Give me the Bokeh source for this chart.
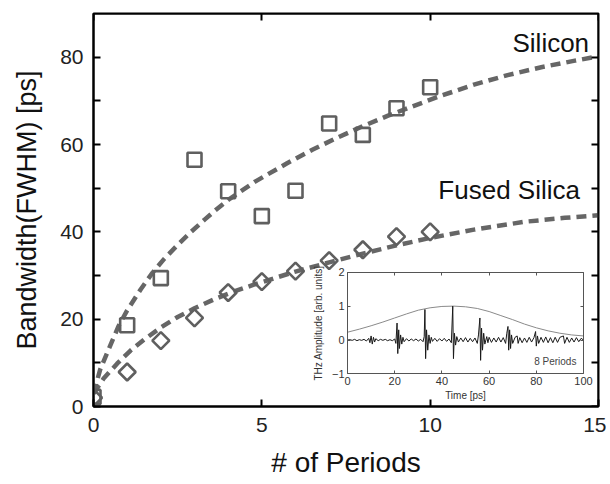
import numpy as np
from bokeh.plotting import figure
from bokeh.models import Range1d, LinearAxis, FixedTicker, Label
from bokeh.embed import file_html
from bokeh.resources import INLINE

# ---------------- data ----------------
periods = [0, 1, 2, 3, 4, 5, 6, 7, 8, 9, 10]
silicon_bw = [2.2, 18.6, 29.4, 56.5, 49.3, 43.6, 49.4, 64.8, 62.2, 68.3, 73.1]
fused_bw = [2.0, 7.9, 15.1, 20.3, 26.1, 28.6, 31.0, 33.4, 35.9, 38.9, 40.0]

silicon_fit_x = [0, 0.2, 0.5, 0.75, 1, 1.4, 1.75, 2.1, 2.5, 2.9, 3.3, 3.6, 4, 4.8, 5.75, 6.5,
                 7.25, 8, 8.75, 9.5, 10.3, 11.3, 12.3, 13.3, 14.3, 15]
silicon_fit_y = [3, 8.5, 14, 18.5, 22, 26.8, 30.6, 33.8, 37, 40, 42.8, 44.8, 47.3, 51.5, 55.7,
                 58.8, 61.6, 64.2, 66.6, 68.8, 71.1, 73.7, 75.9, 77.7, 79.2, 80.2]
fused_fit_x = [0, 0.3, 0.7, 1.1, 1.5, 2, 2.5, 3, 3.6, 4.2, 4.8, 6, 7, 8, 9, 10, 11.3, 12.8, 14, 15]
fused_fit_y = [3, 6.4, 9.8, 12.8, 15.3, 18.1, 20.5, 22.5, 24.6, 26.4, 28.0, 30.9, 33.0, 35.0,
               36.9, 38.6, 40.5, 42.3, 43.2, 43.8]

x_ticks = [0, 5, 10, 15]
y_ticks = [0, 20, 40, 60, 80]
y_minor = [10, 30, 50, 70]

# inset: THz waveform for 8 periods
inset_xlim = (0, 100)
inset_ylim = (-1, 2)
inset_x_ticks = [0, 20, 40, 60, 80, 100]
inset_y_ticks = [-1, 0, 1, 2]
env_t = [0, 5, 10, 15, 20, 25, 30, 35, 40, 45, 50, 55, 60, 65, 70, 75, 80, 85, 90, 95, 100]
env_v = [0.23, 0.32, 0.42, 0.53, 0.65, 0.77, 0.88, 0.95, 0.99, 1.0, 0.98, 0.93, 0.84,
         0.72, 0.6, 0.47, 0.36, 0.27, 0.2, 0.15, 0.12]
sig_t = [0, 1, 2, 3, 4, 5, 6, 7, 8, 9, 9.5, 10, 10.5, 11, 11.5, 12, 13, 14, 15, 16, 17, 18, 19,
         20, 20.5, 21, 21.3, 21.7, 22, 22.5, 23, 23.5, 24, 25, 26, 27, 28, 29, 30, 31, 32, 32.5,
         32.8, 33.1, 33.5, 34, 34.5, 35, 35.5, 36, 37, 38, 39, 40, 41, 42, 43, 44, 44.6, 44.9,
         45.3, 45.8, 46.3, 47, 48, 49, 50, 51, 52, 53, 54, 55, 55.5, 56.1, 56.4, 56.8, 57.2,
         57.7, 58.2, 59, 59.5, 60, 61, 62, 63, 64, 65, 66, 67, 67.5, 68, 68.3, 68.7, 69.1, 69.5,
         70, 71, 71.9, 72.3, 73, 74, 75, 76, 77, 78, 79, 79.7, 80, 80.5, 81, 82, 83, 84, 85, 86,
         87, 88, 89, 90, 91.5, 92, 93, 94, 95, 96, 97, 98, 99, 100]
sig_v = [0, 0.01, -0.01, 0.02, -0.02, 0.01, -0.01, 0.02, -0.03, 0.05, -0.08, 0.12, -0.12, 0.08,
         -0.06, 0.04, -0.02, 0.02, -0.01, 0.02, -0.02, 0.01, -0.02,
         0.03, -0.1, 0.5, -0.4, 0.3, -0.25, 0.15, -0.12, 0.08, -0.05, 0.04, -0.03, 0.03, -0.02,
         0.03, -0.03, 0.02, -0.05, 0.1,
         0.9, -0.55, 0.3, -0.3, 0.15, -0.1, 0.08, -0.04, 0.05, -0.04, 0.04, -0.03, 0.05, -0.04,
         0.03, -0.08, 1.0, -0.55,
         0.2, -0.15, 0.1, -0.06, 0.06, -0.05, 0.07, -0.06, 0.05, -0.05, 0.06, -0.1, 0.15, 0.65,
         -0.6, 0.35, -0.3,
         0.2, -0.12, 0.1, -0.08, 0.08, -0.07, 0.06, -0.06, 0.08, -0.06, 0.07, -0.1, 0.2, 0.4,
         -0.3, 0.3, -0.25, 0.15,
         -0.1, 0.08, 0.12, -0.1, 0.07, -0.08, 0.06, -0.07, 0.08, -0.06, 0.07, 0.25, -0.18, 0.12,
         -0.1, 0.08, -0.07, 0.09, -0.08, 0.07,
         -0.08, 0.08, -0.07, 0.08, 0.12, -0.1, 0.08, -0.07, 0.06, -0.06, 0.07, -0.05, 0.05, 0]

# ---------------- layout constants (pixels) ----------------
FONT = "Liberation Sans"
W, H = 606, 480
ML, MR, MT, MB = 93, 8, 13, 69
frame_w = W - ML - MR
frame_h = H - MT - MB
# inset frame placement inside the main frame (pixels from frame left/top)
in_left, in_right, in_top, in_bottom = 254, 490, 262, 365

p = figure(width=W, height=H, output_backend="svg", toolbar_location=None,
           x_range=Range1d(0, 15), y_range=Range1d(0, 90),
           min_border_left=ML, min_border_right=MR, min_border_top=MT, min_border_bottom=MB,
           background_fill_color="white", border_fill_color="white")
p.xgrid.visible = False
p.ygrid.visible = False
p.outline_line_color = "black"
p.outline_line_width = 2

# inset ranges mapped to a sub-rectangle of the frame
ixs = (inset_xlim[1] - inset_xlim[0]) / (in_right - in_left)
iys = (inset_ylim[1] - inset_ylim[0]) / (in_bottom - in_top)
p.extra_x_ranges = {"ix": Range1d(inset_xlim[0] - in_left * ixs,
                                  inset_xlim[1] + (frame_w - in_right) * ixs)}
p.extra_y_ranges = {"iy": Range1d(inset_ylim[0] - (frame_h - in_bottom) * iys,
                                  inset_ylim[1] + in_top * iys)}

# main axes
for ax in (p.xaxis[0], p.yaxis[0]):
    ax.axis_line_width = 2
    ax.axis_line_color = "black"
    ax.major_tick_in = 7
    ax.major_tick_out = 0
    ax.minor_tick_in = 7
    ax.minor_tick_out = 0
    ax.major_tick_line_width = 2
    ax.minor_tick_line_width = 2
    ax.major_label_text_font = FONT
    ax.major_label_text_font_size = "21px"
    ax.major_label_text_color = "#222"
    ax.axis_label_text_font = FONT
    ax.axis_label_text_font_size = "28px"
    ax.axis_label_text_font_style = "normal"
    ax.axis_label_text_color = "#111"

p.xaxis[0].ticker = FixedTicker(ticks=x_ticks)
p.yaxis[0].ticker = FixedTicker(ticks=y_ticks, minor_ticks=y_minor)
p.xaxis[0].axis_label = "# of Periods"
p.yaxis[0].axis_label = "Bandwidth(FWHM) [ps]"
p.xaxis[0].major_label_standoff = 11
p.xaxis[0].axis_label_standoff = 12
p.yaxis[0].major_label_standoff = 10
p.yaxis[0].axis_label_standoff = 15
p.yaxis[0].axis_label_text_font_size = "27px"

# top/right frame ticks (no labels)
top_ax = LinearAxis(fixed_location=90, ticker=FixedTicker(ticks=x_ticks),
                    major_label_text_color=None, major_tick_in=7, major_tick_out=0,
                    major_tick_line_width=2, axis_line_width=2)
right_ax = LinearAxis(fixed_location=15, ticker=FixedTicker(ticks=y_ticks, minor_ticks=y_minor),
                      major_label_text_color=None, major_tick_in=7, major_tick_out=0,
                      minor_tick_in=7, minor_tick_out=0, major_tick_line_width=2,
                      minor_tick_line_width=2, axis_line_width=2)
p.add_layout(top_ax, "above")
p.add_layout(right_ax, "right")

# main data
grey = "#5f5f5f"
p.line(silicon_fit_x, silicon_fit_y, line_color="#666666", line_width=4.5, line_dash="10 6")
p.line(fused_fit_x, fused_fit_y, line_color="#666666", line_width=4.5, line_dash="10 6")
p.scatter(periods, silicon_bw, marker="square", size=14, fill_color=None,
          line_color=grey, line_width=2.6)
p.scatter(periods, fused_bw, marker="square", size=12, angle=np.pi / 4, fill_color=None,
          line_color=grey, line_width=2.6)

p.add_layout(Label(x=14.72, y=83.3, text="Silicon", text_align="right", text_baseline="middle",
                   text_font=FONT, text_font_size="26px", text_color="#111"))
p.add_layout(Label(x=14.45, y=49.6, text="Fused Silica", text_align="right",
                   text_baseline="middle", text_font=FONT, text_font_size="26px",
                   text_color="#111"))

# inset
p.quad(left=[inset_xlim[0]], right=[inset_xlim[1]], bottom=[inset_ylim[0]], top=[inset_ylim[1]],
       fill_color="white", line_color=None, x_range_name="ix", y_range_name="iy")
p.line(env_t, env_v, line_color="#8a8a8a", line_width=1, x_range_name="ix", y_range_name="iy")
p.line(sig_t, sig_v, line_color="#1a1a1a", line_width=1, x_range_name="ix", y_range_name="iy")


def inset_axis(**kw):
    base = dict(x_range_name="ix", y_range_name="iy", axis_line_color="#555",
                axis_line_width=1, major_tick_in=3, major_tick_out=0, minor_tick_line_color=None,
                major_tick_line_color="#555", major_label_text_font=FONT,
                major_label_text_font_size="11px", major_label_text_color="#333",
                axis_label_text_font=FONT, axis_label_text_font_style="normal",
                axis_label_text_color="#333", major_label_standoff=3, axis_label_standoff=2)
    base.update(kw)
    return LinearAxis(**base)


ib = inset_axis(fixed_location=inset_ylim[0], bounds=inset_xlim,
                ticker=FixedTicker(ticks=inset_x_ticks), axis_label="Time [ps]",
                axis_label_text_font_size="10px")
il = inset_axis(fixed_location=inset_xlim[0], bounds=inset_ylim,
                ticker=FixedTicker(ticks=inset_y_ticks), axis_label="THz Amplitude [arb. units]",
                axis_label_text_font_size="10px", axis_label_standoff=5)
it = inset_axis(fixed_location=inset_ylim[1], bounds=inset_xlim,
                ticker=FixedTicker(ticks=inset_x_ticks), major_label_text_color=None)
ir = inset_axis(fixed_location=inset_xlim[1], bounds=inset_ylim,
                ticker=FixedTicker(ticks=inset_y_ticks), major_label_text_color=None)
p.add_layout(ib, "below")
p.add_layout(il, "left")
p.add_layout(it, "above")
p.add_layout(ir, "right")

p.add_layout(Label(x=97, y=-0.62, x_range_name="ix", y_range_name="iy", text="8 Periods",
                   text_align="right", text_baseline="middle", text_font=FONT,
                   text_font_size="10px", text_color="#444"))

open("out.html", "w").write(file_html(p, INLINE))
